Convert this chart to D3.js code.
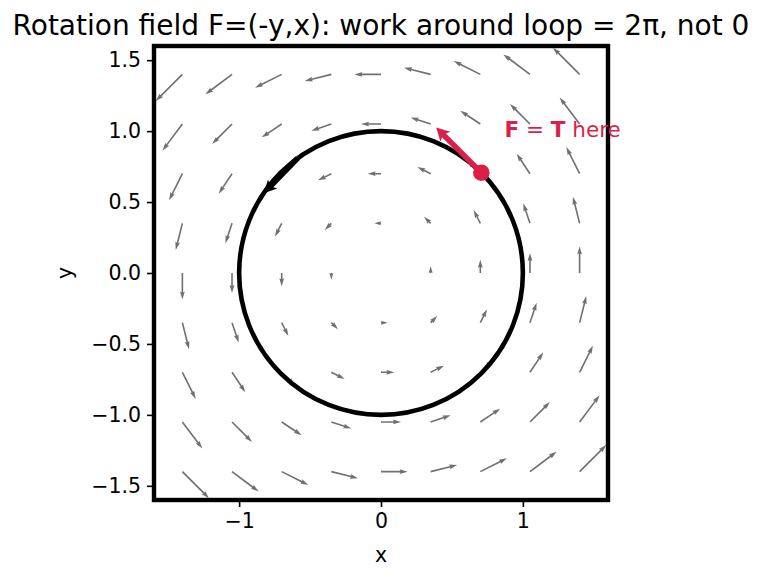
<!DOCTYPE html>
<html>
<head>
<meta charset="utf-8">
<script src="https://cdn.jsdelivr.net/npm/d3@7"></script>
<style>
  body { margin: 0; background: #fff; }
  svg { display: block; font-family: "DejaVu Sans", sans-serif; }
</style>
</head>
<body>
<div id="chart"></div>
<script>
// DATA

// grid of sample points (same in x and y)
const gridX = [-1.4, -1.05, -0.7, -0.35, 0, 0.35, 0.7, 1.05, 1.4];
const gridY = [-1.4, -1.05, -0.7, -0.35, 0, 0.35, 0.7, 1.05, 1.4];
// horizontal component of F for each row (depends on y only)
const uByRow = [1.4, 1.05, 0.7, 0.35, 0, -0.35, -0.7, -1.05, -1.4];
// vertical component of F for each column (depends on x only)
const vByCol = [-1.4, -1.05, -0.7, -0.35, 0, 0.35, 0.7, 1.05, 1.4];

const xTicks = [-1, 0, 1];
const yTicks = [-1.5, -1.0, -0.5, 0.0, 0.5, 1.0, 1.5];

const loopRadius = 1;
const loopArrowAngles = [0.7 * Math.PI, 0.81 * Math.PI];  // direction marker on loop
const markPoint = [0.7071, 0.7071];                        // point where F = T
const markVector = [-0.318, 0.318];                        // drawn tangent arrow
const labelPos = [0.87, 1.0];

// SETUP

const W = 762, H = 581;
const plot = { left: 154, top: 46, size: 454 };
const domain = [-1.6, 1.6];

const x = d3.scaleLinear().domain(domain).range([plot.left, plot.left + plot.size]);
const y = d3.scaleLinear().domain(domain).range([plot.top + plot.size, plot.top]);

const svg = d3.select("#chart").append("svg")
    .attr("width", W)
    .attr("height", H);

svg.append("defs").append("clipPath").attr("id", "clip")
  .append("rect")
    .attr("x", plot.left).attr("y", plot.top)
    .attr("width", plot.size).attr("height", plot.size);

const g = svg.append("g").attr("clip-path", "url(#clip)");

// arrow polygon along +x, then rotated into place
function arrowPoints(L, w, hw, hl, hal) {
    let s = 1;
    if (L < hl) { s = L / hl; L = hl; }
    const pts = [
        [0, -w / 2], [L - hal, -w / 2], [L - hl, -hw / 2], [L, 0],
        [L - hl, hw / 2], [L - hal, w / 2], [0, w / 2]
    ];
    return pts.map(p => [p[0] * s, p[1] * s]);
}

function drawArrow(sel, x0, y0, dx, dy, opt) {
    const L = Math.hypot(dx, dy);
    if (L < 0.01) return;
    const ang = Math.atan2(dy, dx) * 180 / Math.PI;
    const pts = arrowPoints(L, opt.w, opt.hw, opt.hl, opt.hal);
    sel.append("polygon")
        .attr("points", pts.map(p => p.join(",")).join(" "))
        .attr("transform", `translate(${x0},${y0}) rotate(${ang})`)
        .attr("fill", opt.color);
}

// QUIVER

const pxPerUnit = 19;
const quiverStyle = { w: 1.6, hw: 4.8, hl: 8, hal: 7.2, color: "#707070" };

gridY.forEach((gy, i) => {
    gridX.forEach((gx, j) => {
        const u = uByRow[i], v = vByCol[j];
        drawArrow(g, x(gx), y(gy), u * pxPerUnit, -v * pxPerUnit, quiverStyle);
    });
});

// LOOP

const r = x(loopRadius) - x(0);
g.append("circle")
    .attr("cx", x(0)).attr("cy", y(0)).attr("r", r)
    .attr("fill", "none")
    .attr("stroke", "#000")
    .attr("stroke-width", 4.6);

// direction arrow on the loop
{
    const a0 = loopArrowAngles[0], a1 = loopArrowAngles[1];
    const x0 = x(Math.cos(a0)), y0 = y(Math.sin(a0));
    const x1 = x(Math.cos(a1)), y1 = y(Math.sin(a1));
    drawArrow(g, x0, y0, x1 - x0, y1 - y0, { w: 5.5, hw: 13, hl: 13, hal: 11, color: "#000" });
}

// F = T marker
{
    const px = x(markPoint[0]), py = y(markPoint[1]);
    const ex = x(markPoint[0] + markVector[0]), ey = y(markPoint[1] + markVector[1]);
    drawArrow(g, px, py, ex - px, ey - py, { w: 5.5, hw: 14, hl: 13, hal: 11, color: "#dc1f48" });
    g.append("circle")
        .attr("cx", px).attr("cy", py).attr("r", 8.3)
        .attr("fill", "#dc1f48");
}

// AXES

const xAxis = svg.append("g")
    .attr("transform", `translate(0,${plot.top + plot.size})`)
    .call(d3.axisBottom(x).tickValues(xTicks).tickSizeInner(7).tickSizeOuter(0).tickPadding(6)
        .tickFormat(d => d3.format("d")(d).replace("-", "\u2212")));

const yAxis = svg.append("g")
    .attr("transform", `translate(${plot.left},0)`)
    .call(d3.axisLeft(y).tickValues(yTicks).tickSizeInner(7).tickSizeOuter(0).tickPadding(6)
        .tickFormat(d => d3.format(".1f")(d).replace("-", "\u2212")));

[xAxis, yAxis].forEach(ax => {
    ax.select(".domain").remove();
    ax.selectAll(".tick line").attr("stroke", "#000").attr("stroke-width", 1.6);
    ax.selectAll(".tick text")
        .attr("fill", "#000")
        .style("font-size", "20.5px")
        .style("font-family", '"DejaVu Sans", sans-serif');
});

// frame
svg.append("rect")
    .attr("x", plot.left).attr("y", plot.top)
    .attr("width", plot.size).attr("height", plot.size)
    .attr("fill", "none")
    .attr("stroke", "#000")
    .attr("stroke-width", 4.4);

// LABELS

svg.append("text")
    .attr("x", plot.left + plot.size / 2)
    .attr("y", 556)
    .attr("text-anchor", "middle")
    .attr("dominant-baseline", "middle")
    .style("font-size", "20.5px")
    .text("x");

svg.append("text")
    .attr("transform", `translate(66,${plot.top + plot.size / 2}) rotate(-90)`)
    .attr("text-anchor", "middle")
    .attr("dominant-baseline", "middle")
    .style("font-size", "20.5px")
    .text("y");

svg.append("text")
    .attr("x", plot.left + plot.size / 2)
    .attr("y", 35)
    .attr("text-anchor", "middle")
    .style("font-size", "28px")
    .text("Rotation field F=(-y,x): work around loop = 2\u03c0, not 0");

const lab = svg.append("text")
    .attr("x", x(labelPos[0]))
    .attr("y", y(labelPos[1]))
    .attr("dominant-baseline", "middle")
    .attr("fill", "#dc1f48")
    .style("font-size", "21.5px");
lab.append("tspan").style("font-weight", "bold").text("F");
lab.append("tspan").text(" = ");
lab.append("tspan").style("font-weight", "bold").text("T");
lab.append("tspan").text(" here");
</script>
</body>
</html>
